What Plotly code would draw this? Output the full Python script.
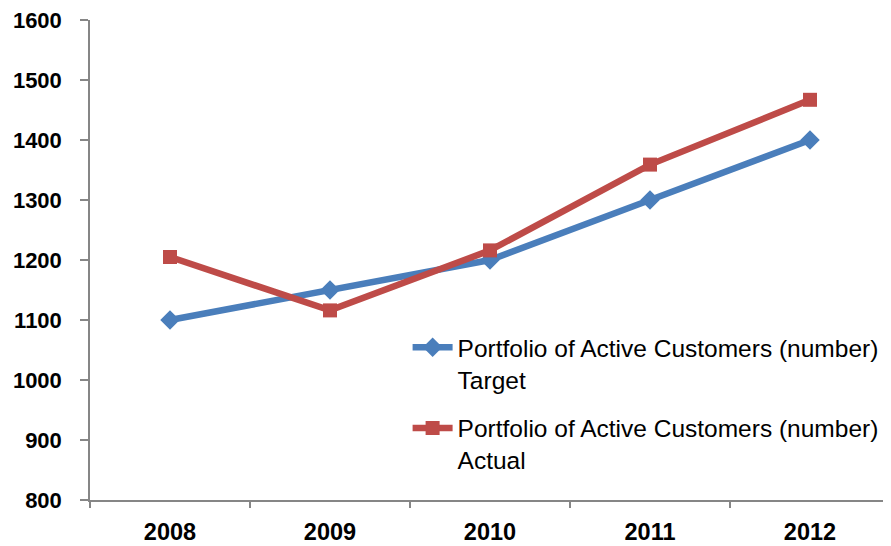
import plotly.graph_objects as go

years = ["2008", "2009", "2010", "2011", "2012"]
target = [1100, 1150, 1200, 1300, 1400]
actual = [1205, 1116, 1216, 1359, 1467]
y_ticks = [800, 900, 1000, 1100, 1200, 1300, 1400, 1500, 1600]
name_target = "Portfolio of Active Customers (number)<br>Target"
name_actual = "Portfolio of Active Customers (number)<br>Actual"

blue = "#4A7EBB"
red = "#BE4B48"

fig = go.Figure()
fig.add_trace(go.Scatter(
    x=years, y=target, mode="lines+markers", name=name_target, legendgroup="a",
    line=dict(color=blue, width=6.5),
    marker=dict(symbol="diamond", size=15, color=blue),
))
fig.add_trace(go.Scatter(
    x=years, y=actual, mode="lines+markers", name=name_actual, legendgroup="b",
    line=dict(color=red, width=6.5),
    marker=dict(symbol="square", size=14, color=red),
))

axis_color = "#868686"
fig.update_layout(
    width=883, height=538,
    margin=dict(l=82, r=1, t=12, b=46),
    paper_bgcolor="white", plot_bgcolor="white",
    font=dict(family="Liberation Sans, Arial, sans-serif", color="black"),
    showlegend=True,
    legend=dict(
        x=0.397, y=0.365, xanchor="left", yanchor="top",
        font=dict(size=24.5, color="black"),
        valign="top", traceorder="grouped", tracegroupgap=14,
        bgcolor="rgba(0,0,0,0)", itemwidth=40,
    ),
    xaxis=dict(
        type="category", categoryorder="array", categoryarray=years,
        range=[-0.5, 4.5], showgrid=False, zeroline=False,
        showline=True, linecolor=axis_color, linewidth=1.5,
        ticks="outside", tickson="boundaries", ticklen=6, tickcolor=axis_color, tickwidth=1.5,
        tickfont=dict(size=23.5, family="Liberation Sans, Arial, sans-serif", weight="bold"),
        ticklabelstandoff=10, ticklabeloverflow="allow",
    ),
    yaxis=dict(
        range=[800, 1600], tickvals=y_ticks, showgrid=False, zeroline=False,
        showline=True, linecolor=axis_color, linewidth=1.5,
        ticks="outside", ticklen=8, tickcolor=axis_color, tickwidth=1.5,
        tickfont=dict(size=22, family="Liberation Sans, Arial, sans-serif", weight="bold"),
        ticklabelstandoff=14, ticklabeloverflow="allow",
    ),
)

fig.write_html("out.html")
